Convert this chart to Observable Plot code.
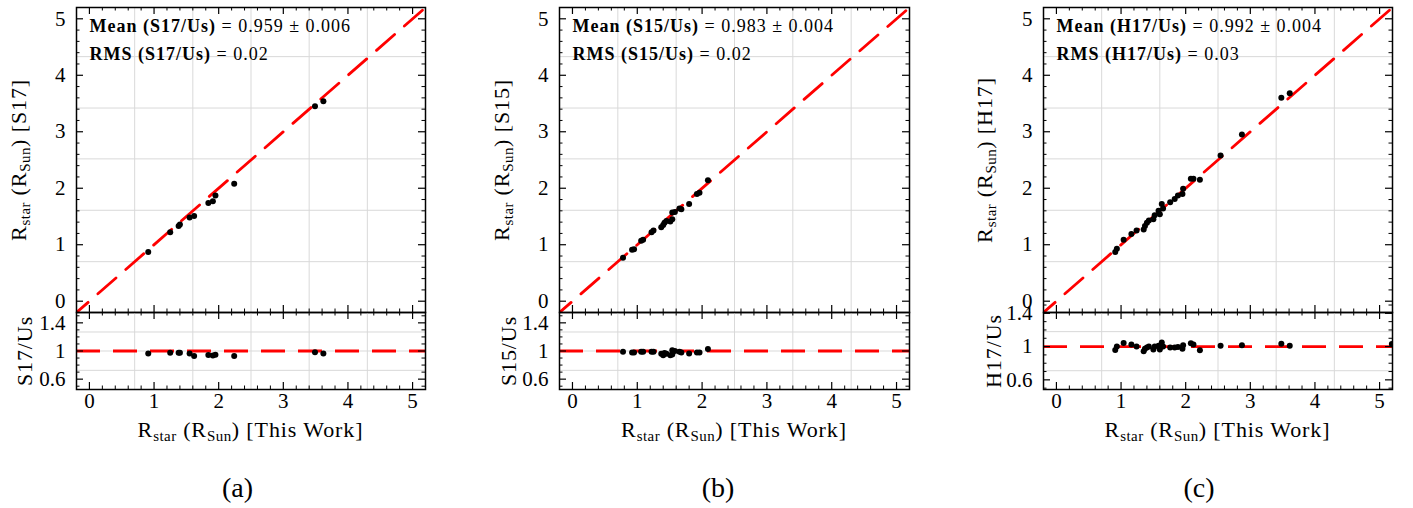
<!DOCTYPE html>
<html><head><meta charset="utf-8">
<script src="https://cdn.jsdelivr.net/npm/d3@7"></script>
<script src="https://cdn.jsdelivr.net/npm/@observablehq/plot@0.6"></script>
<style>
body{margin:0;background:#fff;}
#fig{position:relative;width:1413px;height:508px;font-family:"Liberation Serif",serif;color:#000;overflow:hidden;background:#fff}
#fig svg{position:absolute;overflow:visible}
.lab{position:absolute;white-space:nowrap;font-size:22px;line-height:22px;letter-spacing:0.9px}
.rot{transform:translate(-50%,-50%) rotate(-90deg)}
.ctr{transform:translateX(-50%)}
.sub{font-size:0.68em;vertical-align:-0.28em;letter-spacing:0.5px}
.ann{position:absolute;white-space:nowrap;font-size:18px;line-height:18px;letter-spacing:1px}
.cap{position:absolute;white-space:nowrap;font-size:28px;line-height:28px;transform:translateX(-50%)}
</style></head>
<body><div id="fig"></div>
<script>
// ---------------- data ----------------
// (a) S17 vs This Work
const xThisA = [0.91, 1.25, 1.38, 1.40, 1.55, 1.62, 1.84, 1.91, 1.95, 2.24, 3.49, 3.62];
const yS17   = [0.87, 1.22, 1.33, 1.36, 1.48, 1.51, 1.74, 1.77, 1.87, 2.08, 3.45, 3.54];
const rS17   = [0.966, 0.976, 0.976, 0.976, 0.966, 0.928, 0.942, 0.937, 0.947, 0.928, 0.981, 0.966];
// (b) S15 vs This Work
const xThisB = [0.78, 0.92, 0.95, 1.06, 1.09, 1.22, 1.25, 1.37, 1.40, 1.42, 1.45, 1.51, 1.54, 1.54, 1.58, 1.65, 1.68, 1.80, 1.92, 1.96, 2.09];
const yS15   = [0.77, 0.91, 0.92, 1.07, 1.09, 1.22, 1.25, 1.31, 1.35, 1.39, 1.42, 1.41, 1.45, 1.57, 1.58, 1.64, 1.63, 1.72, 1.90, 1.92, 2.14];
const rS15   = [0.99, 0.98, 0.98, 0.99, 0.99, 0.99, 0.99, 0.96, 0.94, 0.97, 0.96, 0.94, 0.95, 1.01, 1.00, 0.99, 0.98, 0.965, 0.98, 0.98, 1.03];
// (c) H17 vs This Work
const xThisC = [0.91, 0.935, 1.04, 1.16, 1.24, 1.35, 1.37, 1.40, 1.43, 1.50, 1.52, 1.58, 1.60, 1.63, 1.65, 1.76, 1.83, 1.88, 1.95, 1.96, 2.08, 2.12, 2.22, 2.54, 2.87, 3.48, 3.61, 5.19];
const yH17   = [0.87, 0.93, 1.09, 1.19, 1.25, 1.27, 1.33, 1.39, 1.43, 1.45, 1.52, 1.60, 1.54, 1.72, 1.64, 1.75, 1.81, 1.87, 1.90, 1.99, 2.17, 2.17, 2.15, 2.58, 2.95, 3.60, 3.68, 5.35];
const rH17   = [0.96, 1.00, 1.044, 1.024, 1.00, 0.945, 0.975, 0.99, 1.00, 0.965, 1.00, 1.01, 0.965, 1.05, 1.00, 0.99, 0.99, 0.995, 0.975, 1.015, 1.04, 1.025, 0.955, 1.01, 1.015, 1.035, 1.01, 1.03];

const refNames = ["S17", "S15", "H17"];
const meanText = ["0.959 \u00b1 0.006", "0.983 \u00b1 0.004", "0.992 \u00b1 0.004"];
const rmsText  = ["0.02", "0.02", "0.03"];
const captions = ["(a)", "(b)", "(c)"];

// tick / grid values
const mainTicks  = [0, 1, 2, 3, 4, 5];
const ratioTicks = [0.6, 1, 1.4];
const gridX      = [0.7, 1.6, 2.5, 3.4, 4.3];
const gridYTop   = [0.7, 1.61, 2.52, 3.42, 4.33];
const gridYBotAB = [0.725, 1.0, 1.27];
const gridYBotC  = [0.71, 1.18];
const identity   = [-0.3, 5.3];
const unity      = [1];

// ---------------- layout ----------------
const panels = [
  {L: 76,   R: 425,  xs: xThisA, ys: yS17, rs: rS17, yd: [0.453, 1.547], gy: gridYBotAB, ylx: 22,  rlx: 25,  cap: 237.5},
  {L: 559,  R: 909,  xs: xThisB, ys: yS15, rs: rS15, yd: [0.453, 1.547], gy: gridYBotAB, ylx: 505, rlx: 508.5, cap: 718},
  {L: 1043, R: 1392, xs: xThisC, ys: yH17, rs: rH17, yd: [0.484, 1.41],  gy: gridYBotC,  ylx: 988, rlx: 993.5, cap: 1199}
];
const TOP = 7, MID = 312, BOT = 389;
const RED = "#ff0000", GRID = "#d9d9d9";
const dash = "24,13";
const minorX = d3.range(-1, 27).filter(i => i % 5 !== 0).map(i => i / 5);
const minorYTop = minorX;
const minorYBot = d3.range(5, 16).filter(i => i !== 6 && i !== 10 && i !== 14).map(i => i / 10);
const style = {fontFamily: "Liberation Serif, serif", fontSize: "21px", color: "black", background: "transparent", overflow: "visible"};

function frameTicks(xMaj, xMin, yMaj, yMin, iw, ih) {
  const o = {stroke: "black", strokeWidth: 1.2};
  const M = 7, m = 3.5;
  return [
    Plot.tickX(xMaj, {x: d => d, insetTop: ih - M, ...o}),
    Plot.tickX(xMaj, {x: d => d, insetBottom: ih - M, ...o}),
    Plot.tickX(xMin, {x: d => d, insetTop: ih - m, ...o, strokeWidth: 1}),
    Plot.tickX(xMin, {x: d => d, insetBottom: ih - m, ...o, strokeWidth: 1}),
    Plot.tickY(yMaj, {y: d => d, insetRight: iw - M, ...o}),
    Plot.tickY(yMaj, {y: d => d, insetLeft: iw - M, ...o}),
    Plot.tickY(yMin, {y: d => d, insetRight: iw - m, ...o, strokeWidth: 1}),
    Plot.tickY(yMin, {y: d => d, insetLeft: iw - m, ...o, strokeWidth: 1})
  ];
}

const fig = document.getElementById("fig");
panels.forEach((p, k) => {
  const ML = 76, MR = 15;
  const W = p.R - p.L + ML + MR;
  const iw = p.R - p.L;
  const idx = d3.range(p.xs.length);

  // upper panel
  const hTop = MID;
  const top = Plot.plot({
    width: W, height: hTop, marginLeft: ML, marginRight: MR, marginTop: TOP, marginBottom: 0,
    x: {domain: [-0.2, 5.2], axis: null},
    y: {domain: [-0.2, 5.2], axis: null},
    style,
    marks: [
      Plot.ruleX(gridX, {x: d => d, stroke: GRID, strokeWidth: 1}),
      Plot.ruleY(gridYTop, {y: d => d, stroke: GRID, strokeWidth: 1}),
      Plot.line(identity, {x: d => d, y: d => d, stroke: RED, strokeWidth: 2.8, strokeDasharray: dash, clip: true}),
      Plot.dot(idx, {x: p.xs, y: p.ys, r: 3, fill: "black", clip: true}),
      ...frameTicks(mainTicks, minorX, mainTicks, minorYTop, iw, hTop - TOP),
      Plot.frame({stroke: "black", strokeWidth: 1.5}),
      Plot.text(mainTicks, {y: d => d, text: d => String(d), frameAnchor: "left", textAnchor: "end", dx: -11, fontSize: 21})
    ]
  });
  top.style.left = (p.L - ML) + "px";
  top.style.top = "0px";
  fig.appendChild(top);

  // lower (ratio) panel
  const hB = 130, ihB = BOT - MID;
  const bot = Plot.plot({
    width: W, height: hB, marginLeft: ML, marginRight: MR, marginTop: 0, marginBottom: hB - ihB,
    x: {domain: [-0.2, 5.2], axis: null},
    y: {domain: p.yd, axis: null},
    style,
    marks: [
      Plot.ruleX(gridX, {x: d => d, stroke: GRID, strokeWidth: 1}),
      Plot.ruleY(p.gy, {y: d => d, stroke: GRID, strokeWidth: 1}),
      Plot.ruleY(unity, {y: d => d, stroke: RED, strokeWidth: 2.8, strokeDasharray: dash}),
      Plot.dot(idx, {x: p.xs, y: p.rs, r: 3, fill: "black", clip: true}),
      ...frameTicks(mainTicks, minorX, ratioTicks, minorYBot, iw, ihB),
      Plot.frame({stroke: "black", strokeWidth: 1.5}),
      Plot.text(ratioTicks, {y: d => d, text: d => String(d), frameAnchor: "left", textAnchor: "end", dx: -11, fontSize: 21}),
      Plot.text(mainTicks, {x: d => d, text: d => String(d), frameAnchor: "bottom", lineAnchor: "top", dy: 4, fontSize: 21})
    ]
  });
  bot.style.left = (p.L - ML) + "px";
  bot.style.top = MID + "px";
  fig.appendChild(bot);

  const name = refNames[k];
  // annotation text
  const a1 = document.createElement("div");
  a1.className = "ann";
  a1.style.left = (p.L + 13.5) + "px"; a1.style.top = "17px";
  a1.innerHTML = `<b>Mean (${name}/Us)</b> = ${meanText[k]}`;
  fig.appendChild(a1);
  const a2 = document.createElement("div");
  a2.className = "ann";
  a2.style.left = (p.L + 13.5) + "px"; a2.style.top = "45px";
  a2.innerHTML = `<b>RMS (${name}/Us)</b> = ${rmsText[k]}`;
  fig.appendChild(a2);

  // y labels
  const yl = document.createElement("div");
  yl.className = "lab rot";
  yl.style.left = p.ylx + "px"; yl.style.top = ((TOP + MID) / 2) + "px";
  yl.innerHTML = `R<span class="sub">star</span> (R<span class="sub">Sun</span>) [${name}]`;
  fig.appendChild(yl);
  const rl = document.createElement("div");
  rl.className = "lab rot";
  rl.style.left = p.rlx + "px"; rl.style.top = ((MID + BOT) / 2) + "px";
  rl.textContent = `${name}/Us`;
  fig.appendChild(rl);

  // x label
  const xl = document.createElement("div");
  xl.className = "lab ctr";
  xl.style.left = ((p.L + p.R) / 2) + "px"; xl.style.top = "419px";
  xl.innerHTML = `R<span class="sub">star</span> (R<span class="sub">Sun</span>) [This Work]`;
  fig.appendChild(xl);

  // caption
  const c = document.createElement("div");
  c.className = "cap";
  c.style.left = p.cap + "px"; c.style.top = "474px";
  c.textContent = captions[k];
  fig.appendChild(c);
});
</script>
</body></html>
